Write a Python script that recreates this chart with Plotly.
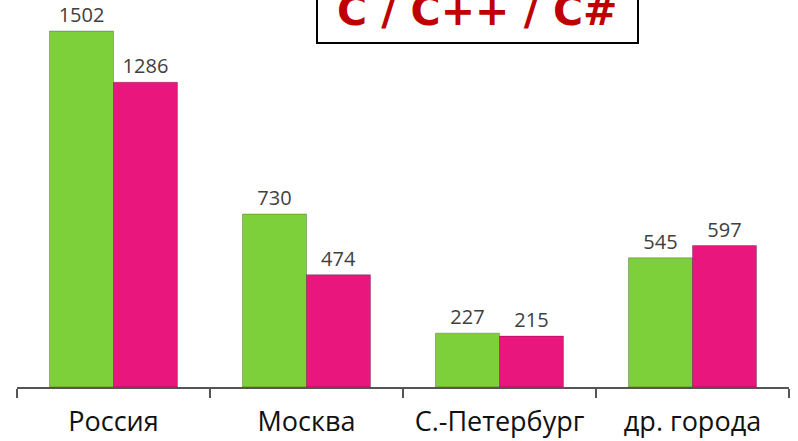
import plotly.graph_objs as go

# categories and the two series (colors only, no legend in the original)
cities = ['Россия', 'Москва', 'С.-Петербург', 'др. города']
green_vals = [1502, 730, 227, 545]
pink_vals = [1286, 474, 215, 597]
title_text = 'C / C++ / C#'

fig = go.Figure()

fig.add_trace(go.Bar(
    x=cities,
    y=green_vals,
    text=green_vals,
    textposition='outside',
    marker_color='rgb(126,208,59)',
    marker_line_color='rgba(0,0,0,0.25)',
    marker_line_width=1,
    cliponaxis=False,
))

fig.add_trace(go.Bar(
    x=cities,
    y=pink_vals,
    text=pink_vals,
    textposition='outside',
    marker_color='rgb(233,22,125)',
    marker_line_color='rgba(0,0,0,0.25)',
    marker_line_width=1,
    cliponaxis=False,
))

fig.update_traces(textfont=dict(family='Open Sans', size=20, color='#404040'))

# title box, cut off by the top edge like in the picture
fig.add_shape(type='rect', xref='paper', yref='paper',
              x0=0.3886, x1=0.8044, y0=0.889, y1=1.2,
              line=dict(color='black', width=2), fillcolor='white')
fig.add_annotation(text=title_text, xref='paper', yref='paper',
                   x=0.596, y=0.905, xanchor='center', yanchor='bottom',
                   showarrow=False,
                   font=dict(family='DejaVu Sans', size=41, color='#c00000', weight='bold'))

fig.update_layout(
    width=798, height=441,
    margin=dict(l=17, r=9, t=0, b=54),
    paper_bgcolor='white', plot_bgcolor='white',
    showlegend=False,
    barmode='group', bargap=0.337, bargroupgap=0,
    xaxis=dict(
        showline=True, linecolor='#555555', linewidth=2,
        ticks='outside', tickson='boundaries', ticklen=9, tickwidth=2, tickcolor='#555555',
        tickfont=dict(family='Open Sans', size=27, color='#111111'),
        ticklabelstandoff=10,
        range=[-0.5, 3.5],
    ),
    yaxis=dict(visible=False, range=[0, 1633]),
)

# page has a default body margin; drop it so the chart sits at the window corner
fig.write_html('out.html', config={'displayModeBar': False},
               post_script="document.body.style.margin='0';")
